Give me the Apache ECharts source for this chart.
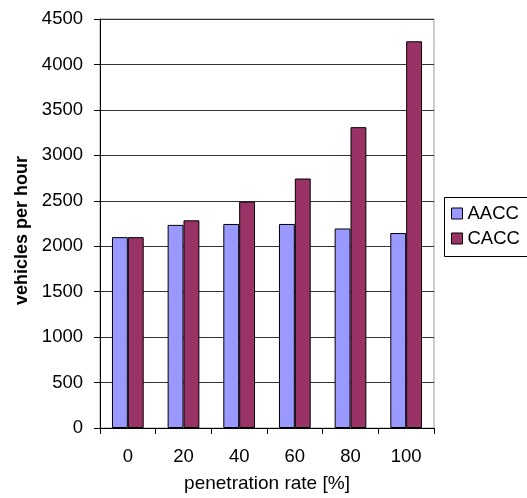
<!DOCTYPE html>
<html>
<head>
<meta charset="utf-8">
<script src="https://cdn.jsdelivr.net/npm/echarts@6/dist/echarts.min.js"></script>
<style>
  html, body { margin: 0; padding: 0; background: #fff; }
  #chart { width: 527px; height: 498px; }
</style>
</head>
<body>
<div id="chart"></div>
<script>
// Penetration rates on the x axis
const penetrationRates = ['0', '20', '40', '60', '80', '100'];
// Throughput (vehicles per hour) for each controller type
const aaccValues = [2100, 2235, 2245, 2245, 2195, 2145];
const caccValues = [2100, 2285, 2490, 2745, 3310, 4255];
const seriesNames = ['AACC', 'CACC'];

const FONT = 'Liberation Sans, Arial, sans-serif';

const chart = echarts.init(document.getElementById('chart'), null, { renderer: 'canvas' });

chart.setOption({
  animation: false,
  backgroundColor: '#fff',
  textStyle: { fontFamily: FONT },
  grid: {
    left: 100, right: 93, top: 19, bottom: 66,
    show: true, borderColor: '#999', borderWidth: 1, backgroundColor: 'transparent'
  },
  // legend frame runs off the right edge of the canvas
  graphic: [{
    type: 'rect',
    left: 444, top: 197,
    shape: { width: 110, height: 59 },
    style: { fill: 'transparent', stroke: '#000', lineWidth: 1 },
    silent: true,
    z: 1
  }],
  legend: {
    orient: 'vertical',
    left: 444, top: 197,
    data: seriesNames,
    icon: 'rect',
    itemWidth: 11, itemHeight: 11, itemGap: 6,
    padding: [7, 7, 7, 7],
    itemStyle: { borderColor: '#000', borderWidth: 1 },
    textStyle: { fontFamily: FONT, fontSize: 18.5, color: '#000' }
  },
  xAxis: {
    type: 'category',
    data: penetrationRates,
    name: 'penetration rate [%]',
    nameLocation: 'middle',
    nameGap: 46,
    nameTextStyle: { fontFamily: FONT, fontSize: 19, color: '#000' },
    axisLine: { lineStyle: { color: '#000', width: 1 } },
    axisTick: { show: true, length: 6, lineStyle: { color: '#000' } },
    axisLabel: { margin: 19, fontFamily: FONT, fontSize: 18.5, color: '#000' },
    splitLine: { show: false }
  },
  yAxis: {
    type: 'value',
    min: 0, max: 4500, interval: 500,
    name: 'vehicles per hour',
    nameLocation: 'middle',
    nameGap: 64,
    nameTextStyle: {
      fontFamily: FONT, fontSize: 18, fontWeight: 'bold', color: '#000',
      padding: [0, 14, 0, 0]
    },
    axisLine: { show: true, lineStyle: { color: '#000', width: 1 } },
    axisTick: { show: true, length: 6, lineStyle: { color: '#000' } },
    axisLabel: {
      margin: 17, fontFamily: FONT, fontSize: 18.5, color: '#000',
      formatter: function (v) { return String(v); }
    },
    splitLine: { show: true, lineStyle: { color: '#333', width: 1 } }
  },
  series: [
    {
      name: seriesNames[0],
      type: 'bar',
      data: aaccValues,
      barGap: '0%',
      barCategoryGap: '43%',
      itemStyle: { color: '#9999FF', borderColor: '#000', borderWidth: 1 }
    },
    {
      name: seriesNames[1],
      type: 'bar',
      data: caccValues,
      barGap: '0%',
      barCategoryGap: '43%',
      itemStyle: { color: '#993366', borderColor: '#000', borderWidth: 1 }
    }
  ]
});
</script>
</body>
</html>
